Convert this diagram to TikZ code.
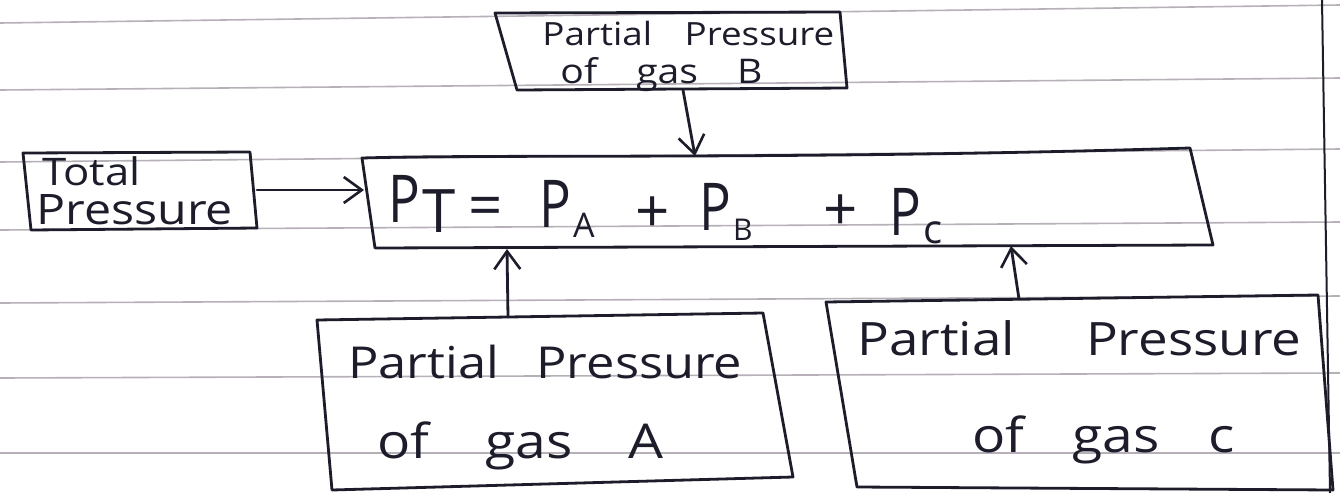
\documentclass[tikz,border=0pt]{standalone}
\usepackage{fontspec}
\usepackage{graphicx}
\setmainfont{Open Sans}[FakeStretch=1.15]
\newfontfamily\eqfont{Open Sans}
\usetikzlibrary{arrows.meta}
\definecolor{ink}{HTML}{1C1C2A}
\definecolor{ruleline}{HTML}{B8B0B8}
% a line of words spread over a given width
\newcommand\spread[2]{\makebox[#1][s]{#2}}
% a narrow capital P followed by a lowered subscript
\newcommand\pterm[3]{\scalebox{0.8}[1]{P}\kern1pt\raisebox{#2}{\fontsize{#1}{#1}\selectfont #3}}
\begin{document}
\begin{tikzpicture}[x=0.5pt,y=-0.5pt,
  pen/.style={draw=ink,line width=1.4pt,line join=round,line cap=round},
  feed/.style={pen,-{Straight Barb[length=9pt,width=13pt,line width=1.3pt]}},
  ruling/.style={draw=ruleline,line width=0.8pt},
  hand/.style={text=ink,inner sep=0pt,anchor=base west},
  eqn/.style={hand,font=\eqfont\fontsize{33}{38}\selectfont},
  sym/.style={text=ink,inner sep=0pt,anchor=center,font=\eqfont\fontsize{30}{34}\selectfont}]
\useasboundingbox (0,0) rectangle (1340,493);
\fill[white] (0,0) rectangle (1340,493);
% ruled paper and its margin
\foreach \l/\r in {23/5,90/78,162/149,230/222,303/296,378/373,453/453}
  \draw[ruling] (0,\l) -- (1340,\r);
\draw[draw=ink,line width=1pt] (1322,0) -- (1330,493);

% box corners
\coordinate (b1) at (495,13);  \coordinate (b2) at (840,12);
\coordinate (b3) at (847,88);  \coordinate (b4) at (517,90);
\coordinate (t1) at (23,153);  \coordinate (t2) at (250,152);
\coordinate (t3) at (257,228); \coordinate (t4) at (31,230);
\coordinate (m1) at (362,158); \coordinate (m2) at (1190,148);
\coordinate (m3) at (1213,245);\coordinate (m4) at (375,248);
\coordinate (a1) at (317,320); \coordinate (a2) at (763,313);
\coordinate (a3) at (793,477); \coordinate (a4) at (332,490);
\coordinate (c1) at (826,302); \coordinate (c2) at (1318,295);
\coordinate (c3) at (1333,490);\coordinate (c4) at (857,487);

\draw[pen] (b1) -- (b2) -- (b3) -- (b4) -- cycle;
\draw[pen] (t1) -- (t2) -- (t3) -- (t4) -- cycle;
\draw[pen] (m1) .. controls (500,154) and (800,160) .. (m2)
  -- (m3) -- (m4) -- cycle;
\draw[pen] (a1) -- (a2) -- (a3) -- (a4) -- cycle;
\draw[pen] (c1) -- (c2) -- (c3) -- (c4) -- cycle;

% box texts
\node[hand,font=\fontsize{16}{19}\selectfont] (bl1) at (542,45) {\spread{146pt}{Partial Pressure}};
\node[hand,font=\fontsize{17}{20}\selectfont] (bl2) at (560,83) {\spread{101pt}{of gas B}};
\node[hand,font=\fontsize{19}{22}\selectfont] (tl1) at (42,185) {Total};
\node[hand,font=\fontsize{21}{25}\selectfont] (tl2) at (36,224) {Pressure};
\node[hand,font=\fontsize{22}{26}\selectfont] (al1) at (348,378) {\spread{197pt}{Partial Pressure}};
\node[hand,font=\fontsize{24}{28}\selectfont] (al2) at (377,458) {\spread{143pt}{of gas A}};
\node[hand,font=\fontsize{23}{27}\selectfont] (cl1) at (857,355) {\spread{222pt}{Partial Pressure}};
\node[hand,font=\fontsize{24}{28}\selectfont] (cl2) at (972,452) {\spread{131pt}{of gas c}};

% the equation
\node[eqn] (pT) at (388,222) {\pterm{30}{-5pt}{T}};
\node[sym] (eqs) at (486,212) {=};
\node[eqn] (pA) at (539,227) {\pterm{17}{-5pt}{A}};
\node[sym] (plus1) at (653,215) {+};
\node[eqn] (pB) at (699,230) {\pterm{15}{-5pt}{B}};
\node[sym] (plus2) at (841,213) {+};
\node[eqn] (pC) at (889,235) {\pterm{20}{-4pt}{c}};

% arrow end points on the box edges
\coordinate (bOut) at (683,90);  \coordinate (mTop) at (695,156);
\coordinate (tOut) at (257,190); \coordinate (mLeft) at (364,190);
\coordinate (aOut) at (508,317); \coordinate (mBotA) at (507,249);
\coordinate (cOut) at (1019,299);\coordinate (mBotC) at (1011,246);

\draw[feed] (bOut) -- (mTop);
\draw[feed] (tOut) -- (mLeft);
\draw[feed] (aOut) -- (mBotA);
\draw[feed] (cOut) -- (mBotC);
\end{tikzpicture}
\end{document}
